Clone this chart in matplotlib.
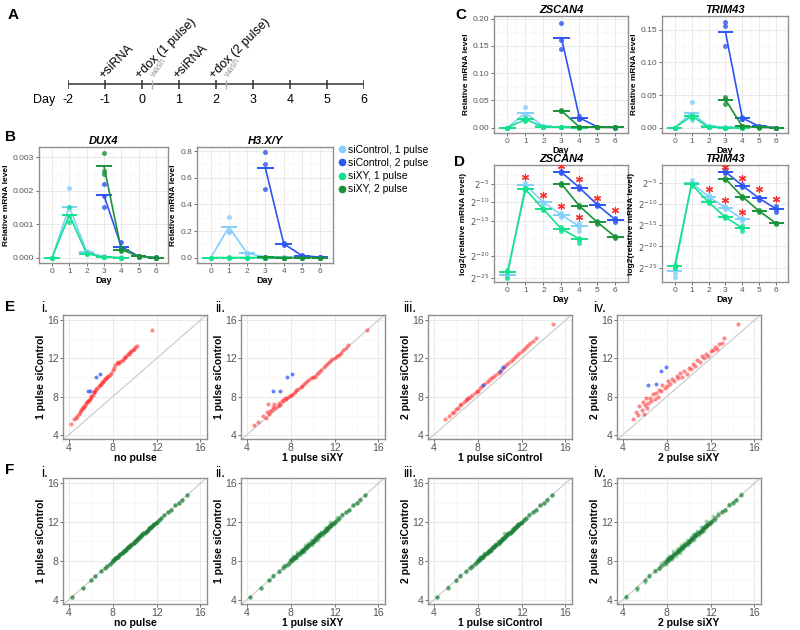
import numpy as np
import matplotlib
matplotlib.use("Agg")
import matplotlib.pyplot as plt
from matplotlib.ticker import MultipleLocator, FormatStrFormatter, FixedLocator, FixedFormatter
from matplotlib.lines import Line2D

plt.rcParams["font.family"] = ["Liberation Sans", "DejaVu Sans"]

# ---------------- data ----------------
# panel A timeline
tl_days = [-2, -1, 0, 1, 2, 3, 4, 5, 6]
event_days = [-1, 0, 1, 2]
event_labels = ["+siRNA", "+dox (1 pulse)", "+siRNA", "+dox (2 pulse)"]
wash_days = [0.27, 2.27]

days_1p = [0, 1, 2, 3, 4]
days_2p = [3, 4, 5, 6]
legend_labels = ["siControl, 1 pulse", "siControl, 2 pulse", "siXY, 1 pulse", "siXY, 2 pulse"]
colors = ["#82CFFB", "#2D55F2", "#11E38C", "#179438"]

# B: DUX4
dux_c1 = [0, 0.00153, 0.00018, 0.00004, 0.00001]
dux_c1_reps = [[0, 0, 0], [0.00207, 0.00153, 0.00108], [0.0002, 0.00018, 0.00016], [0.00005, 0.00004, 0.00003], [0.00002, 0.00001, 0.00001]]
dux_c2 = [0.00186, 0.00034, 0.00005, 0.00001]
dux_c2_reps = [[0.0022, 0.00185, 0.00152], [0.00046, 0.0003, 0.00027], [0.00006, 0.00005, 0.00004], [0.00002, 0.00001, 0.00001]]
dux_x1 = [0, 0.00128, 0.00013, 0.00002, 0.00001]
dux_x1_reps = [[0, 0, 0], [0.00153, 0.00125, 0.00108], [0.00015, 0.00013, 0.00011], [0.00003, 0.00002, 0.00002], [0.00001, 0.00001, 0.00001]]
dux_x2 = [0.00273, 0.00025, 0.00005, 0.00001]
dux_x2_reps = [[0.00312, 0.0025, 0.00258], [0.0003, 0.00024, 0.00021], [0.00006, 0.00005, 0.00004], [0.00002, 0.00001, 0.00001]]

# B: H3.X/Y
h3_c1 = [0, 0.23, 0.033, 0.005, 0.002]
h3_c1_reps = [[0, 0, 0], [0.305, 0.195, 0.19], [0.036, 0.033, 0.03], [0.006, 0.005, 0.004], [0.003, 0.002, 0.001]]
h3_c2 = [0.67, 0.105, 0.015, 0.004]
h3_c2_reps = [[0.79, 0.70, 0.515], [0.112, 0.105, 0.098], [0.018, 0.015, 0.012], [0.005, 0.004, 0.003]]
h3_x1 = [0, 0.001, 0.001, 0.001, 0.001]
h3_x1_reps = [[0, 0, 0], [0.002, 0.001, 0.001], [0.001, 0.001, 0.001], [0.001, 0.001, 0.001], [0.001, 0.001, 0.001]]
h3_x2 = [0.002, 0.001, 0.001, 0.001]
h3_x2_reps = [[0.003, 0.002, 0.001], [0.001, 0.001, 0.001], [0.001, 0.001, 0.001], [0.001, 0.001, 0.001]]

# C: ZSCAN4
zs_c1 = [0, 0.027, 0.002, 0.0005, 0.0002]
zs_c1_reps = [[0, 0, 0], [0.038, 0.022, 0.02], [0.003, 0.002, 0.001], [0.001, 0.0005, 0.0003], [0.0003, 0.0002, 0.0001]]
zs_c2 = [0.165, 0.018, 0.001, 0.0002]
zs_c2_reps = [[0.192, 0.16, 0.145], [0.022, 0.016, 0.015], [0.0015, 0.001, 0.0008], [0.0003, 0.0002, 0.0001]]
zs_x1 = [0, 0.015, 0.001, 0.0003, 0.0001]
zs_x1_reps = [[0, 0, 0], [0.018, 0.013, 0.012], [0.0015, 0.001, 0.0008], [0.0004, 0.0003, 0.0002], [0.0002, 0.0001, 0.0001]]
zs_x2 = [0.031, 0.001, 0.0005, 0.0002]
zs_x2_reps = [[0.033, 0.031, 0.03], [0.0015, 0.001, 0.0008], [0.0006, 0.0005, 0.0004], [0.0003, 0.0002, 0.0001]]

# C: TRIM43
tr_c1 = [0, 0.023, 0.002, 0.0005, 0.0002]
tr_c1_reps = [[0, 0, 0], [0.039, 0.018, 0.012], [0.003, 0.002, 0.001], [0.001, 0.0005, 0.0003], [0.0003, 0.0002, 0.0001]]
tr_c2 = [0.147, 0.015, 0.002, 0.0003]
tr_c2_reps = [[0.162, 0.156, 0.125], [0.016, 0.014, 0.014], [0.0025, 0.002, 0.0015], [0.0004, 0.0003, 0.0002]]
tr_x1 = [0, 0.018, 0.001, 0.0003, 0.0001]
tr_x1_reps = [[0, 0, 0], [0.02, 0.016, 0.015], [0.0015, 0.001, 0.0008], [0.0004, 0.0003, 0.0002], [0.0002, 0.0001, 0.0001]]
tr_x2 = [0.043, 0.002, 0.0005, 0.0002]
tr_x2_reps = [[0.047, 0.044, 0.037], [0.0025, 0.002, 0.0015], [0.0006, 0.0005, 0.0004], [0.0003, 0.0002, 0.0001]]

# D: log2 values (exponents)
dz_c1 = [-24.45, -5.2, -10.0, -13.4, -15.8]
dz_c1_reps = [[-24.2, -24.6, -24.9], [-4.6, -5.1, -5.4], [-9.8, -10.1, -10.3], [-12.9, -13.4, -14.0], [-15.3, -15.9, -16.4]]
dz_c2 = [-1.67, -5.94, -10.7, -14.7]
dz_c2_reps = [[-1.3, -1.7, -2.0], [-5.4, -5.9, -6.3], [-10.4, -10.7, -11.0], [-14.2, -14.7, -15.1]]
dz_x1 = [-23.7, -6.4, -11.9, -16.15, -17.6]
dz_x1_reps = [[-23.3, -23.8, -25.0], [-6.0, -6.4, -6.7], [-11.6, -11.9, -12.2], [-15.9, -16.2, -16.4], [-17.4, -17.8, -18.2]]
dz_x2 = [-4.9, -11.0, -15.2, -17.3]
dz_x2_reps = [[-4.7, -4.9, -5.1], [-10.8, -11.0, -11.3], [-15.0, -15.2, -15.4], [-17.1, -17.3, -17.5]]
dz_star_days = [1, 2, 3, 3, 4, 4, 5, 6]
dz_star_vals = [-2.9, -7.9, 0.0, -11.0, -3.5, -14.0, -8.7, -12.1]
# axis of the ZSCAN4 log panel as drawn (tick exponent -> relative height)
dz_axis_exp = [-35, -25, -20, -15, -10, -5, 5]
dz_axis_pos = [-321.7, -277.7, -255.7, -221.0, -202.3, -184.3, -148.3]

dt_c1 = [-25.8, -5.0, -8.3, -10.9, -13.6]
dt_c1_reps = [[-25.3, -26.2, -27.3], [-4.3, -5.0, -5.3], [-8.0, -8.3, -8.6], [-10.6, -10.9, -11.2], [-13.3, -13.6, -14.0]]
dt_c2 = [-2.4, -5.7, -8.7, -11.2]
dt_c2_reps = [[-2.1, -2.4, -2.7], [-5.4, -5.7, -6.0], [-8.4, -8.7, -9.0], [-10.6, -11.2, -12.0]]
dt_x1 = [-24.6, -5.4, -9.6, -13.1, -15.7]
dt_x1_reps = [[-24.4, -24.8, -25.2], [-5.2, -5.4, -5.7], [-9.4, -9.6, -9.9], [-12.8, -13.1, -13.4], [-15.3, -15.7, -16.3]]
dt_x2 = [-4.1, -8.3, -11.7, -14.6]
dt_x2_reps = [[-3.9, -4.1, -4.3], [-8.1, -8.3, -8.5], [-11.5, -11.7, -11.9], [-14.4, -14.6, -14.8]]
dt_star_days = [2, 3, 3, 4, 4, 5, 6]
dt_star_vals = [-6.6, -1.2, -9.2, -4.0, -12.0, -6.6, -8.9]

# E: scatter (red = genes, blue = highlighted)
e1_x = [4.15, 4.5, 4.6, 4.75, 4.9, 5.0, 5.1, 5.2, 5.3, 5.35, 5.45, 5.55, 5.6, 5.7, 5.8, 5.9, 6.0, 6.05, 6.15, 6.25,
        6.3, 6.4, 6.5, 6.6, 6.7, 6.8, 6.9, 7.0, 7.1, 7.2, 7.3, 7.4, 7.5, 7.6, 7.7, 7.85, 8.0, 8.1, 8.2, 8.35,
        8.5, 8.6, 8.75, 8.9, 9.0, 9.1, 9.2, 9.35, 9.5, 9.6, 9.7, 9.8, 9.95, 10.05, 10.2, 11.6]
e1_y = [5.1, 5.6, 5.8, 5.95, 6.2, 6.4, 6.55, 6.7, 6.9, 6.95, 7.1, 7.3, 7.4, 7.5, 7.65, 7.75, 7.95, 8.1, 8.2, 8.45,
        8.5, 8.6, 8.75, 8.9, 9.1, 9.2, 9.35, 9.5, 9.55, 9.7, 9.85, 9.95, 10.0, 10.15, 10.3, 10.5, 10.8, 11.0, 11.3, 11.5,
        11.6, 11.55, 11.75, 11.8, 12.0, 12.1, 12.3, 12.5, 12.5, 12.7, 12.8, 12.9, 13.0, 13.2, 13.35, 14.95]
e1_bx = [5.7, 5.9, 6.5, 6.8]
e1_by = [8.6, 8.6, 10.0, 10.35]

e2_x = [4.6, 5.0, 5.5, 5.7, 5.8, 5.9, 6.0, 6.1, 6.3, 6.4, 6.5, 6.6, 6.8, 6.9, 7.0, 7.2, 7.3, 7.5, 7.6, 7.7,
        7.9, 8.0, 8.2, 8.4, 8.5, 8.7, 8.9, 9.0, 9.2, 9.4, 9.6, 9.8, 10.0, 10.2, 10.4, 10.6, 10.8, 11.0, 11.2, 11.4,
        11.6, 11.8, 12.0, 12.2, 12.4, 12.6, 12.8, 13.0, 13.2, 15.0]
e2_y = [5.05, 5.3, 6.0, 5.8, 6.4, 7.2, 6.2, 6.5, 6.6, 6.9, 7.2, 6.8, 7.0, 7.3, 7.1, 7.5, 7.6, 7.8, 7.7, 8.0,
        8.1, 8.2, 8.3, 8.5, 8.7, 8.8, 9.0, 9.1, 9.3, 9.5, 9.7, 9.9, 10.0, 10.1, 10.4, 10.6, 10.8, 11.1, 11.3, 11.5,
        11.7, 11.9, 12.0, 12.2, 12.4, 12.6, 12.9, 13.1, 13.4, 15.0]
e2_bx = [6.4, 7.05, 7.65, 8.1]
e2_by = [8.6, 8.6, 10.0, 10.35]

e3_x = [5.0, 5.4, 5.6, 5.8, 6.0, 6.2, 6.4, 6.5, 6.7, 6.9, 7.0, 7.1, 7.3, 7.5, 7.7, 7.9, 8.0, 8.2, 8.4, 8.6,
        8.8, 9.0, 9.2, 9.4, 9.6, 9.8, 10.0, 10.2, 10.4, 10.6, 10.8, 11.0, 11.2, 11.4, 11.6, 11.8, 12.0, 12.2, 12.4, 12.6,
        12.8, 13.0, 13.3, 14.9]
e3_y = [5.6, 6.0, 6.3, 6.4, 6.7, 6.8, 7.1, 7.2, 7.4, 7.6, 7.7, 7.8, 8.0, 8.2, 8.4, 8.6, 8.6, 8.9, 9.1, 9.3,
        9.5, 9.7, 9.9, 10.1, 10.3, 10.5, 10.6, 10.9, 11.1, 11.3, 11.5, 11.7, 11.9, 12.1, 12.4, 12.6, 12.8, 13.0, 13.2, 13.4,
        13.6, 13.8, 14.1, 15.6]
e3_bx = [8.5, 10.0, 10.3]
e3_by = [9.24, 10.7, 11.06]

e4_x = [4.9, 5.2, 5.4, 5.5, 5.7, 5.8, 5.9, 6.0, 6.1, 6.2, 6.3, 6.5, 6.6, 6.7, 6.9, 7.0, 7.2, 7.3, 7.5, 7.6,
        7.8, 8.0, 8.1, 8.3, 8.5, 8.7, 8.9, 9.0, 9.2, 9.4, 9.6, 9.8, 10.0, 10.2, 10.4, 10.6, 10.8, 11.0, 11.2, 11.4,
        11.6, 11.8, 12.0, 12.2, 12.4, 12.6, 12.8, 13.0, 13.2, 14.5]
e4_y = [5.6, 6.4, 6.1, 7.0, 6.6, 7.4, 6.2, 7.1, 7.8, 6.8, 7.3, 7.9, 7.5, 8.3, 7.7, 8.4, 8.0, 8.7, 8.6, 9.2,
        8.9, 9.1, 9.6, 9.3, 9.8, 9.6, 10.2, 9.9, 10.5, 10.1, 10.7, 10.4, 11.0, 10.9, 11.4, 11.2, 11.8, 11.6, 12.3, 12.0,
        12.5, 12.3, 12.8, 12.9, 13.2, 13.0, 13.5, 13.6, 14.1, 15.6]
e4_bx = [6.3, 7.0, 7.45, 7.96]
e4_by = [9.24, 9.35, 10.7, 11.06]

# F: expression level and difference (y - x) per comparison
f_x = [4.3, 5.3, 6.0, 6.4, 6.9, 7.3, 7.5, 7.7, 7.9,
       8.0, 8.1, 8.2, 8.3, 8.4, 8.5, 8.6, 8.7, 8.8, 8.9, 9.0, 9.1, 9.2, 9.3, 9.4, 9.5, 9.6, 9.7, 9.8, 9.9, 10.0,
       10.1, 10.2, 10.3, 10.4, 10.5, 10.6, 10.7, 10.8, 10.9, 11.0, 11.1, 11.2, 11.3, 11.4, 11.5, 11.6, 11.7, 11.8, 11.9, 12.0,
       12.2, 12.4, 12.7, 13.0, 13.3, 13.7, 14.0, 14.3, 14.8]
f1_d = [0.0, -0.05, 0.02, 0.0, 0.03, -0.02, 0.0, 0.02, -0.02,
        0.04, -0.03, 0.05, -0.04, 0.02, -0.05, 0.03, 0.0, -0.03, 0.05, -0.02, 0.04, -0.05, 0.03, 0.0, -0.04, 0.05, -0.02, 0.03, -0.05, 0.02,
        -0.03, 0.04, 0.0, 0.05, -0.04, 0.02, -0.03, 0.04, -0.05, 0.01, 0.03, -0.02, 0.05, -0.04, 0.02, 0.03, -0.03, 0.04, -0.02, 0.0,
        0.03, -0.02, 0.02, 0.0, -0.03, 0.02, 0.0, -0.02, 0.03]
f2_d = [0.0, -0.1, 0.05, 0.1, -0.05, 0.15, 0.05, -0.1, 0.15,
        0.2, -0.1, 0.3, -0.15, 0.1, -0.25, 0.35, 0.05, -0.2, 0.25, -0.1, 0.15, -0.3, 0.3, 0.0, -0.2, 0.2, -0.1, 0.35, -0.25, 0.1,
        -0.15, 0.25, -0.05, 0.3, -0.3, 0.15, -0.1, 0.2, -0.2, 0.05, 0.3, -0.15, 0.1, -0.25, 0.2, 0.4, -0.1, 0.15, -0.05, 0.1,
        0.3, -0.1, 0.15, 0.05, -0.05, 0.1, 0.0, 0.05, 0.0]
f3_d = [0.0, 0.05, -0.05, 0.1, -0.05, 0.1, -0.1, 0.05, 0.1,
        0.12, -0.08, 0.18, -0.1, 0.06, -0.15, 0.2, 0.03, -0.12, 0.15, -0.06, 0.1, -0.18, 0.16, 0.0, -0.12, 0.12, -0.06, 0.2, -0.15, 0.06,
        -0.1, 0.15, -0.03, 0.45, -0.18, 0.1, -0.06, 0.12, -0.12, 0.03, 0.18, -0.1, 0.06, -0.15, 0.12, 0.2, -0.06, 0.1, -0.03, 0.06,
        0.15, -0.1, 0.1, 0.05, -0.05, 0.05, 0.0, 0.05, -0.05]
f4_d = [0.1, -0.3, -0.2, 0.15, 0.2, -0.1, 0.25, 0.3, -0.2,
        0.25, -0.15, 0.35, -0.2, 0.15, -0.3, 0.4, 0.05, -0.25, 0.3, -0.1, 0.2, -0.35, 0.35, 0.0, -0.25, 0.25, -0.1, 0.4, -0.3, 0.1,
        -0.2, 0.3, -0.05, 0.35, -0.35, 0.2, -0.1, 0.25, -0.25, 0.05, 0.35, -0.2, 0.1, -0.3, 0.25, 0.5, -0.15, 0.2, -0.05, 0.15,
        0.4, -0.2, 0.2, 0.1, -0.1, 0.15, 0.05, 0.0, 0.05]

xy_xlabels = ["no pulse", "1 pulse siXY", "1 pulse siControl", "2 pulse siXY"]
xy_ylabels = ["1 pulse siControl", "1 pulse siControl", "2 pulse siControl", "2 pulse siControl"]
romans = ["i.", "ii.", "iii.", "iv."]

# ---------------- figure ----------------
fig = plt.figure(figsize=(8, 6.3), dpi=100)


def add_ax(l, t, r, b):
    return fig.add_axes([l / 800, 1 - b / 630, (r - l) / 800, (b - t) / 630])


def style(ax, fs=6, pad=1.5):
    for s in ax.spines.values():
        s.set_edgecolor("#8F8F8F")
        s.set_linewidth(1.0)
    ax.grid(True, which="major", color="#E6E6E6", lw=0.6)
    ax.grid(True, which="minor", color="#F3F3F3", lw=0.4)
    ax.set_axisbelow(True)
    ax.tick_params(which="major", length=2, width=0.6, color="#555555",
                   labelcolor="#555555", labelsize=fs, pad=pad)
    ax.tick_params(which="minor", length=0)


def time_panel(ax, series, title, ylabel):
    for days, means, reps, col in series:
        d = np.array(days)
        ax.plot(d, means, color=col, lw=1.2, zorder=3)
        ax.hlines(means, d - 0.45, d + 0.45, color=col, lw=1.4, zorder=3)
        for day, r in zip(days, reps):
            ax.scatter([day] * len(r), r, s=13, color=col, alpha=0.8, lw=0, zorder=4)
    ax.set_xlim(-0.75, 6.7)
    ax.set_xticks(range(7))
    ax.xaxis.set_minor_locator(MultipleLocator(0.5))
    style(ax)
    ax.set_title(title, fontsize=8, fontweight="bold", fontstyle="italic", pad=2)
    ax.set_xlabel("Day", fontsize=6.5, fontweight="bold", labelpad=0.5)
    ax.set_ylabel(ylabel, fontsize=6, fontweight="bold", labelpad=2)


def linear_y(ax, ylim, step, fmt):
    ax.set_ylim(*ylim)
    ax.yaxis.set_major_locator(MultipleLocator(step))
    ax.yaxis.set_minor_locator(MultipleLocator(step / 2))
    ax.yaxis.set_major_formatter(FormatStrFormatter(fmt))


# A: timeline
axA = add_ax(68, 30, 364, 110)
axA.set_xlim(-2, 6)
axA.set_ylim(-26, 54)
axA.axis("off")
axA.plot([tl_days[0], tl_days[-1]], [0, 0], color="#333333", lw=1.1)
axA.vlines(tl_days, -4.5, 4.5, color="#333333", lw=1.1)
for d in tl_days:
    axA.text(d, -16, str(d), ha="center", va="center", fontsize=9)
axA.text(-2.35, -16, "Day", ha="right", va="center", fontsize=9)
for d, lab in zip(event_days, event_labels):
    axA.text(d - 0.05, 5, lab, rotation=45, rotation_mode="anchor",
             ha="left", va="baseline", fontsize=9)
axA.vlines(wash_days, -4.5, 4.5, color="#B0B0B0", lw=1.0)
for w in wash_days:
    axA.text(w + 0.05, 6, "wash", rotation=55, rotation_mode="anchor",
             ha="left", va="baseline", fontsize=6.5, color="#9A9A9A")

# B
ser = [(days_1p, dux_c1, dux_c1_reps, colors[0]), (days_2p, dux_c2, dux_c2_reps, colors[1]),
       (days_1p, dux_x1, dux_x1_reps, colors[2]), (days_2p, dux_x2, dux_x2_reps, colors[3])]
axB1 = add_ax(39, 147, 168, 263)
time_panel(axB1, ser, "DUX4", "Relative mRNA level")
linear_y(axB1, (-0.00015, 0.0033), 0.001, "%.3f")

ser = [(days_1p, h3_c1, h3_c1_reps, colors[0]), (days_2p, h3_c2, h3_c2_reps, colors[1]),
       (days_1p, h3_x1, h3_x1_reps, colors[2]), (days_2p, h3_x2, h3_x2_reps, colors[3])]
axB2 = add_ax(197, 147, 333, 263)
time_panel(axB2, ser, "H3.X/Y", "Relative mRNA level")
linear_y(axB2, (-0.04, 0.83), 0.2, "%.1f")

handles = [Line2D([], [], marker="o", ls="", color=c, markersize=4.5) for c in colors]
fig.legend(handles, legend_labels, loc="upper left", bbox_to_anchor=(337 / 800, 1 - 145 / 630),
           frameon=False, fontsize=7.5, handletextpad=0.1, labelspacing=0.3,
           handlelength=1.0, borderaxespad=0, borderpad=0)

# C
ser = [(days_1p, zs_c1, zs_c1_reps, colors[0]), (days_2p, zs_c2, zs_c2_reps, colors[1]),
       (days_1p, zs_x1, zs_x1_reps, colors[2]), (days_2p, zs_x2, zs_x2_reps, colors[3])]
axC1 = add_ax(494, 16, 628, 133)
time_panel(axC1, ser, "ZSCAN4", "Relative mRNA level")
linear_y(axC1, (-0.01, 0.205), 0.05, "%.2f")

ser = [(days_1p, tr_c1, tr_c1_reps, colors[0]), (days_2p, tr_c2, tr_c2_reps, colors[1]),
       (days_1p, tr_x1, tr_x1_reps, colors[2]), (days_2p, tr_x2, tr_x2_reps, colors[3])]
axC2 = add_ax(662, 16, 788, 133)
time_panel(axC2, ser, "TRIM43", "Relative mRNA level")
linear_y(axC2, (-0.008, 0.171), 0.05, "%.2f")

# D
exp_ticks = [-25, -20, -15, -10, -5]
exp_labels = [r"$2^{%d}$" % t for t in exp_ticks]

axD1 = add_ax(494, 165, 628, 282)
axD1.set_yscale("function", functions=(lambda e: np.interp(e, dz_axis_exp, dz_axis_pos),
                                       lambda p: np.interp(p, dz_axis_pos, dz_axis_exp)))
ser = [(days_1p, dz_c1, dz_c1_reps, colors[0]), (days_2p, dz_c2, dz_c2_reps, colors[1]),
       (days_1p, dz_x1, dz_x1_reps, colors[2]), (days_2p, dz_x2, dz_x2_reps, colors[3])]
time_panel(axD1, ser, "ZSCAN4", "log2(relative mRNA level)")
axD1.set_ylim(-26, 0.36)
axD1.scatter(dz_star_days, dz_star_vals, marker=(6, 2, 0), s=20, color="#F23030", lw=0.9, zorder=5)

axD2 = add_ax(662, 165, 788, 282)
ser = [(days_1p, dt_c1, dt_c1_reps, colors[0]), (days_2p, dt_c2, dt_c2_reps, colors[1]),
       (days_1p, dt_x1, dt_x1_reps, colors[2]), (days_2p, dt_x2, dt_x2_reps, colors[3])]
time_panel(axD2, ser, "TRIM43", "log2(relative mRNA level)")
axD2.set_ylim(-28.4, -0.84)
axD2.scatter(dt_star_days, dt_star_vals, marker=(6, 2, 0), s=20, color="#F23030", lw=0.9, zorder=5)

for ax in (axD1, axD2):
    ax.yaxis.set_major_locator(FixedLocator(exp_ticks))
    ax.yaxis.set_major_formatter(FixedFormatter(exp_labels))
    ax.yaxis.set_minor_locator(FixedLocator([-22.5, -17.5, -12.5, -7.5, -2.5]))
    ax.tick_params(axis="y", labelsize=6)

# E and F scatter panels
lefts = [63, 241, 428, 617]


def xy_panel(ax, xlab, ylab):
    ax.axline((4, 4), (16, 16), color="#C8C8C8", lw=0.8, zorder=1)
    ax.set_xlim(3.45, 16.6)
    ax.set_ylim(3.55, 16.55)
    ax.set_xticks([4, 8, 12, 16])
    ax.set_yticks([4, 8, 12, 16])
    ax.xaxis.set_minor_locator(MultipleLocator(2))
    ax.yaxis.set_minor_locator(MultipleLocator(2))
    style(ax, fs=7.5, pad=1)
    ax.set_xlabel(xlab, fontsize=7.5, fontweight="bold", labelpad=0)
    ax.set_ylabel(ylab, fontsize=7.5, fontweight="bold", labelpad=1)


e_sets = [(e1_x, e1_y, e1_bx, e1_by), (e2_x, e2_y, e2_bx, e2_by),
          (e3_x, e3_y, e3_bx, e3_by), (e4_x, e4_y, e4_bx, e4_by)]
for i, (xr, yr, xb, yb) in enumerate(e_sets):
    ax = add_ax(lefts[i], 315, lefts[i] + 144, 439)
    ax.scatter(xr, yr, s=9, color="#FF1A1A", alpha=0.5, lw=0, zorder=3)
    ax.scatter(xb, yb, s=8, color="#3355FF", alpha=0.75, lw=0, zorder=4)
    xy_panel(ax, xy_xlabels[i], xy_ylabels[i])

fx = np.array(f_x)
f_sets = [f1_d, f2_d, f3_d, f4_d]
for i, fd in enumerate(f_sets):
    ax = add_ax(lefts[i], 478, lefts[i] + 144, 604)
    ax.scatter(fx, fx + np.array(fd), s=8, color="#3AA55A", alpha=0.45, lw=0, zorder=3)
    ax.scatter(fx, fx + np.array(f1_d), s=10, color="#1B7A33", alpha=0.6, lw=0, zorder=4)
    xy_panel(ax, xy_xlabels[i], xy_ylabels[i])

# panel letters and numerals
for lab, x, y in [("A", 8, 8), ("B", 5, 130), ("C", 455, 8), ("D", 454, 155), ("E", 5, 300), ("F", 5, 463)]:
    fig.text(x / 800, 1 - y / 630, lab, fontsize=11, fontweight="bold", va="top")
rom_x = [41, 215, 403, 593]
for r, x in zip(romans, rom_x):
    fig.text(x / 800, 1 - 301 / 630, r, fontsize=10, va="top")
    fig.text(x / 800, 1 - 466 / 630, r, fontsize=10, va="top")

fig.savefig("out.png", dpi=100)
